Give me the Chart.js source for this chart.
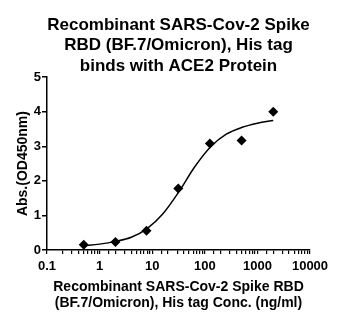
<!DOCTYPE html>
<html>
<head>
<meta charset="utf-8">
<script src="https://cdn.jsdelivr.net/npm/chart.js@4/dist/chart.umd.min.js"></script>
<style>
html,body{margin:0;padding:0;background:#fff;}
#wrap{width:350px;height:322px;position:relative;}
</style>
</head>
<body>
<div id="wrap"><canvas id="c" width="350" height="322"></canvas></div>
<script>
// measured points
const concentrations = [0.5, 2, 7.8, 31.25, 125, 500, 2000];
const absorbance = [0.15, 0.23, 0.56, 1.78, 3.08, 3.17, 4.0];
// fitted curve
const curveX = [0.5, 1, 2, 4, 8, 16, 32, 64, 128, 256, 512, 1000, 2000];
const curveY = [0.12, 0.17, 0.25, 0.37, 0.62, 1.05, 1.68, 2.4, 2.98, 3.35, 3.55, 3.67, 3.75];
const xDecades = [0.1, 1, 10, 100, 1000, 10000];
const yTicks = [0, 1, 2, 3, 4, 5];

const FONT = "'Liberation Sans', Arial, sans-serif";

new Chart(document.getElementById('c'), {
  type: 'scatter',
  data: {
    datasets: [
      {
        type: 'line',
        data: curveX.map((x, i) => ({x: x, y: curveY[i]})),
        borderColor: '#000',
        borderWidth: 1.5,
        pointRadius: 0,
        cubicInterpolationMode: 'monotone',
        fill: false
      },
      {
        data: concentrations.map((x, i) => ({x: x, y: absorbance[i]})),
        pointStyle: 'rectRot',
        pointRadius: 5,
        backgroundColor: '#000',
        borderColor: '#000',
        borderWidth: 0
      }
    ]
  },
  options: {
    responsive: false,
    animation: false,
    devicePixelRatio: 1,
    layout: {padding: {left: 14, right: 40, top: 0, bottom: 10}},
    plugins: {
      legend: {display: false},
      tooltip: {enabled: false},
      title: {
        display: true,
        fullSize: false,
        text: ['Recombinant SARS-Cov-2 Spike', 'RBD (BF.7/Omicron), His tag', 'binds with ACE2 Protein'],
        color: '#000',
        font: {family: FONT, size: 17, weight: 'bold'},
        lineHeight: 1.33,
        padding: {top: 15, bottom: 1}
      }
    },
    scales: {
      x: {
        type: 'logarithmic',
        min: 0.1,
        max: 10000,
        border: {color: '#000', width: 1.5},
        grid: {display: true, drawOnChartArea: false, color: '#000', tickLength: 4, lineWidth: 1.2},
        ticks: {
          color: '#000',
          font: {family: FONT, size: 13, weight: 'bold'},
          autoSkip: false,
          maxRotation: 0,
          padding: 5,
          callback: function(v) { return xDecades.includes(v) ? String(v) : ''; }
        },
        afterFit: function(s) { s.height = 62; },
        title: {
          display: true,
          text: ['Recombinant SARS-Cov-2 Spike RBD', '(BF.7/Omicron), His tag Conc. (ng/ml)'],
          color: '#000',
          font: {family: FONT, size: 14, weight: 'bold'},
          lineHeight: 1.35,
          padding: {top: 0, bottom: 0}
        }
      },
      y: {
        min: 0,
        max: 5,
        border: {color: '#000', width: 1.5},
        grid: {display: true, drawOnChartArea: false, color: '#000', tickLength: 5, lineWidth: 1.5},
        afterBuildTicks: function(s) { s.ticks = yTicks.map(v => ({value: v})); },
        ticks: {
          color: '#000',
          font: {family: FONT, size: 13, weight: 'bold'},
          padding: 1
        },
        afterFit: function(s) { s.width = 33; },
        title: {
          display: true,
          text: 'Abs.(OD450nm)',
          color: '#000',
          font: {family: FONT, size: 14, weight: 'bold'},
          padding: {top: 1, bottom: 0}
        }
      }
    }
  }
});
</script>
</body>
</html>
